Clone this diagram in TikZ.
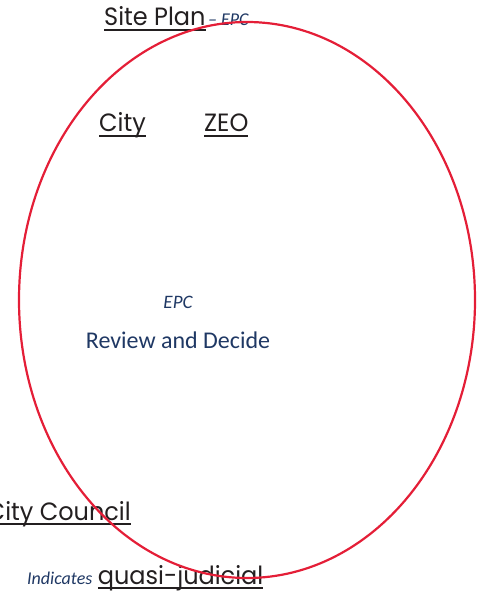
\documentclass[tikz,border=0pt]{standalone}
\usepackage{fontspec}
\usetikzlibrary{positioning}
\newfontfamily\gothic[FakeStretch=0.96]{Poppins}
\newfontfamily\calib{Carlito}
\definecolor{inkgray}{RGB}{35,31,32}
\definecolor{navy}{RGB}{31,56,100}
\definecolor{ringred}{RGB}{228,30,55}
% underline set a fixed distance below the baseline
\newcommand\uln[1]{\setbox0=\hbox{#1}\rlap{\lower3pt\hbox{\vrule width\wd0 height 0pt depth 1.8pt}}\box0}

\begin{document}
\begin{tikzpicture}[x=1pt,y=-1pt,
  title/.style={font=\gothic\fontsize{25}{28}\selectfont, text=inkgray, inner sep=0pt, anchor=base west},
  note/.style={font=\calib\itshape\fontsize{18}{20}\selectfont, text=navy, inner sep=0pt, anchor=base west},
  body/.style={font=\calib\fontsize{24}{27}\selectfont, text=navy, inner sep=0pt, anchor=base},
  ring/.style={draw=ringred, line width=2.2pt}
]
\useasboundingbox (0,0) rectangle (485,596);

\node[title] (site) at (104,26) {\uln{Site Plan}};
\node[note, right=2pt of site.base east, anchor=base west] (sitenote) {– EPC};

\node[title] (city) at (99,132) {\uln{City}};
\node[title] (zeo) at (204,132) {\uln{ZEO}};

\node[body, font=\calib\itshape\fontsize{19}{21}\selectfont] (epc) at (178,308) {EPC};
\node[body] (review) at (178,348) {Review and Decide};

\node[title, anchor=base east] (council) at (131,520) {\uln{City Council}};

\node[note] (indicates) at (27,584) {Indicates};
\node[title, right=5pt of indicates.base east, anchor=base west] (quasi) {\uln{quasi-judicial}};

\draw[ring] (247,300) ellipse [x radius=228, y radius=278];
\end{tikzpicture}
\end{document}
